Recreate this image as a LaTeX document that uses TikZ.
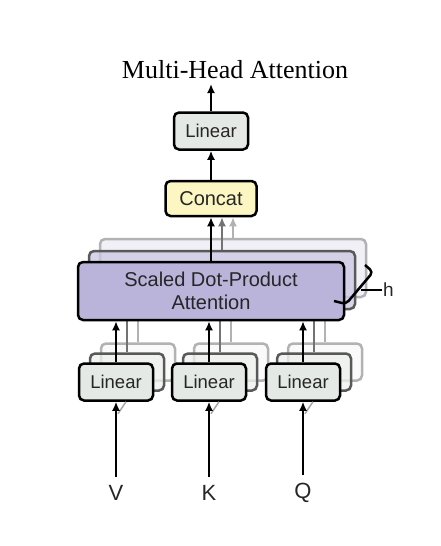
\documentclass[tikz,border=0pt]{standalone}
\usepackage{fontspec}
\setmainfont{Liberation Serif}
\setsansfont{Liberation Sans}
\usetikzlibrary{arrows.meta,positioning}

\definecolor{linfill}{RGB}{228,233,230}
\definecolor{catfill}{RGB}{252,246,194}
\definecolor{attfill}{RGB}{186,179,218}

\begin{document}
\begin{tikzpicture}[
  x=1pt, y=-1pt,
  font=\sffamily,
  >={Latex[length=9pt,width=8pt]},
  box/.style={draw, line width=2.5pt, rounded corners=5pt, align=center, inner sep=0pt, text=black!85},
  linbox/.style={box, fill=linfill, minimum width=74pt, minimum height=37pt, font=\sffamily\fontsize{18.5}{20}\selectfont},
  catbox/.style={box, fill=catfill, minimum width=91pt, minimum height=35pt, font=\sffamily\fontsize{20}{22}\selectfont},
  attbox/.style={box, fill=attfill, minimum width=266pt, minimum height=58pt, font=\sffamily\fontsize{20}{23}\selectfont},
  back2/.style={draw=black!65, fill opacity=0.75},
  back3/.style={draw=black!30, fill opacity=0.45},
  arrow/.style={->, line width=2.5pt},
  grayarrow/.style={->, line width=2.5pt, black!55},
  lightarrow/.style={->, line width=2.5pt, black!30},
  inlabel/.style={font=\sffamily\fontsize{22}{24}\selectfont, inner sep=8pt, text=black!85}
]
  \useasboundingbox (0,0) rectangle (440,546);

  % title
  \node[font=\rmfamily\fontsize{26}{28}\selectfont] (title) at (235,70) {Multi-Head Attention};

  % linear layers at the bottom (two copies behind each)
  \foreach \n/\x in {1/116, 2/209, 3/303} {
    \node[linbox, back3, fill=linfill!50] (lin\n c) at (\x+22,362) {};
    \node[linbox, back2, fill=linfill!70] (lin\n b) at (\x+11,372) {};
    \node[linbox] (lin\n) at (\x,382) {Linear};
  }

  % inputs
  \node[inlabel] (v) at (116,493) {V};
  \node[inlabel] (k) at (209,493) {K};
  \node[inlabel] (q) at (303,493) {Q};

  \foreach \i/\n in {v/1, k/2, q/3} {
    \draw[black!35, line width=1.5pt] ([xshift=2pt,yshift=-12pt]lin\n.south) -- ([xshift=10pt]lin\n.south);
    \draw[arrow] (\i.north) -- (lin\n.south);
  }

  % attention heads
  \node[attbox, back3, fill=attfill!45] (att3) at (233,268) {};
  \node[attbox, back2, fill=attfill!75] (att2) at (222,280) {};

  \foreach \n in {1,2,3} {
    \draw[black!30, line width=2.5pt] (lin\n c.north) -- (lin\n c.north |- att3.south);
    \draw[black!55, line width=2.5pt] (lin\n b.north) -- (lin\n b.north |- att2.south);
  }

  \node[attbox] (att) at (211,291) {Scaled Dot-Product\\Attention};

  \foreach \n in {1,2,3}
    \draw[arrow] (lin\n.north) -- (lin\n.north |- att.south);

  % number of heads
  \draw[line width=2.5pt, rounded corners=4pt] (365,265) -- (373,272) -- (346,304) -- (334,301);
  \node[font=\sffamily\fontsize{19}{20}\selectfont, anchor=west, inner sep=1pt, text=black!85] (h) at (382,290) {h};
  \draw[line width=1.5pt] (361,290) -- (h.west);

  % concat and output
  \node[catbox] (cat) at (211,198.5) {Concat};
  \node[linbox] (lintop) at (211,131) {Linear};
  \coordinate (out) at (211,84);

  \draw[lightarrow] (att3.north) -- (att3.north |- cat.south);
  \draw[grayarrow] (att2.north) -- (att2.north |- cat.south);
  \draw[arrow] (att) -- (cat);
  \draw[arrow] (cat) -- (lintop);
  \draw[arrow] (lintop) -- (out);
\end{tikzpicture}
\end{document}
